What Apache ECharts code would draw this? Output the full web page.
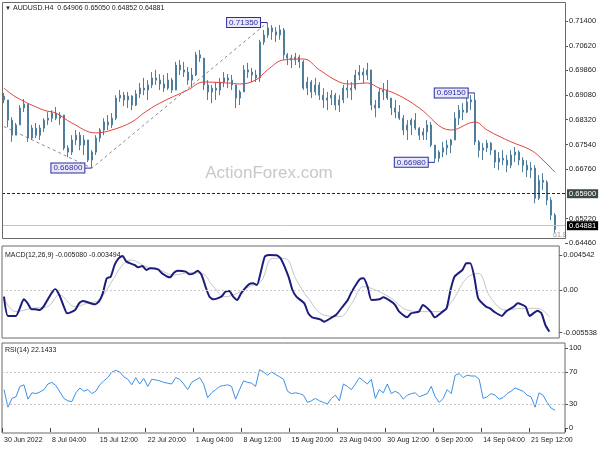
<!DOCTYPE html>
<html><head><meta charset="utf-8">
<script src="https://cdn.jsdelivr.net/npm/echarts@6/dist/echarts.min.js"></script>
<style>html,body{margin:0;padding:0;background:#fff}#c{width:600px;height:450px}</style>
</head><body><div id="c"></div>
<script>
// ---------- DATA ----------
const categoryCount = 141; // 4px slots across the panel
const dateLabels = ['30 Jun 2022','8 Jul 04:00','15 Jul 12:00','22 Jul 20:00','1 Aug 04:00','8 Aug 12:00','15 Aug 20:00','23 Aug 04:00','30 Aug 12:00','6 Sep 20:00','14 Sep 04:00','21 Sep 12:00'];
const firstOpen = 0.6905;
const priceHigh = [0.6915,0.6893,0.6839,0.6821,0.6877,0.6896,0.6880,0.6815,0.6821,0.6815,
0.6836,0.6855,0.6861,0.6871,0.6855,0.6846,0.6752,0.6783,0.6799,0.6793,
0.6783,0.6768,0.6736,0.6783,0.6805,0.6836,0.6846,0.6852,0.6908,0.6924,
0.6918,0.6918,0.6908,0.6924,0.6946,0.6962,0.6955,0.6980,0.6987,0.6974,
0.6971,0.6977,0.6962,0.7012,0.7018,0.7012,0.6996,0.6993,0.7043,0.7049,
0.7024,0.6955,0.6940,0.6949,0.6962,0.6980,0.6974,0.6971,0.6930,0.6924,
0.7002,0.7009,0.6993,0.6987,0.7081,0.7112,0.7135,0.7127,0.7121,0.7127,
0.7118,0.7040,0.7034,0.7040,0.7034,0.7018,0.6965,0.6955,0.6962,0.6949,
0.6930,0.6918,0.6924,0.6915,0.6908,0.6940,0.6955,0.6949,0.6987,0.7002,
0.6993,0.7009,0.6987,0.6893,0.6930,0.6946,0.6955,0.6899,0.6893,0.6877,
0.6846,0.6830,0.6836,0.6852,0.6808,0.6805,0.6830,0.6824,0.6752,0.6736,
0.6762,0.6768,0.6771,0.6855,0.6877,0.6883,0.6899,0.6908,0.6915,0.6768,
0.6758,0.6768,0.6762,0.6736,0.6730,0.6736,0.6721,0.6736,0.6746,0.6736,
0.6714,0.6705,0.6699,0.6689,0.6658,0.6664,0.6642,0.6589,0.6539];
const priceLow = [0.6883,0.6808,0.6762,0.6783,0.6815,0.6855,0.6762,0.6768,0.6774,0.6768,
0.6793,0.6815,0.6824,0.6830,0.6815,0.6736,0.6714,0.6721,0.6752,0.6736,
0.6721,0.6699,0.6680,0.6721,0.6762,0.6783,0.6799,0.6805,0.6830,0.6887,
0.6874,0.6868,0.6861,0.6874,0.6899,0.6908,0.6893,0.6930,0.6940,0.6924,
0.6918,0.6924,0.6915,0.6924,0.6971,0.6965,0.6940,0.6933,0.6968,0.7012,
0.6924,0.6893,0.6883,0.6893,0.6908,0.6933,0.6930,0.6924,0.6868,0.6877,
0.6918,0.6962,0.6949,0.6949,0.6949,0.7065,0.7087,0.7081,0.7074,0.7081,
0.7018,0.7002,0.6993,0.7002,0.6993,0.6924,0.6908,0.6899,0.6908,0.6893,
0.6868,0.6861,0.6877,0.6861,0.6855,0.6883,0.6899,0.6893,0.6924,0.6955,
0.6946,0.6955,0.6861,0.6839,0.6871,0.6893,0.6893,0.6846,0.6836,0.6830,
0.6783,0.6768,0.6783,0.6799,0.6768,0.6768,0.6768,0.6746,0.6698,0.6699,
0.6714,0.6721,0.6727,0.6768,0.6815,0.6830,0.6852,0.6861,0.6752,0.6714,
0.6705,0.6730,0.6721,0.6680,0.6674,0.6689,0.6667,0.6680,0.6699,0.6689,
0.6667,0.6652,0.6649,0.6570,0.6580,0.6611,0.6564,0.6517,0.6479];
const priceClose = [0.6893,0.6830,0.6783,0.6815,0.6868,0.6880,0.6774,0.6805,0.6783,0.6805,
0.6830,0.6836,0.6852,0.6836,0.6846,0.6743,0.6730,0.6768,0.6783,0.6752,
0.6768,0.6705,0.6730,0.6774,0.6799,0.6824,0.6815,0.6836,0.6899,0.6908,
0.6893,0.6905,0.6877,0.6912,0.6930,0.6924,0.6940,0.6962,0.6955,0.6943,
0.6930,0.6955,0.6924,0.7002,0.6987,0.6980,0.6955,0.6971,0.7034,0.7024,
0.6940,0.6918,0.6930,0.6924,0.6949,0.6962,0.6955,0.6940,0.6899,0.6918,
0.6987,0.6980,0.6971,0.6962,0.7074,0.7096,0.7118,0.7106,0.7096,0.7112,
0.7034,0.7024,0.7018,0.7027,0.7012,0.6930,0.6949,0.6918,0.6940,0.6908,
0.6893,0.6899,0.6908,0.6877,0.6893,0.6930,0.6924,0.6930,0.6971,0.6980,
0.6971,0.6987,0.6877,0.6868,0.6918,0.6924,0.6899,0.6868,0.6855,0.6836,
0.6799,0.6815,0.6830,0.6805,0.6783,0.6793,0.6815,0.6752,0.6711,0.6730,
0.6743,0.6752,0.6768,0.6836,0.6861,0.6855,0.6887,0.6893,0.6762,0.6736,
0.6743,0.6758,0.6736,0.6699,0.6711,0.6705,0.6689,0.6721,0.6730,0.6705,
0.6689,0.6674,0.6680,0.6586,0.6642,0.6636,0.6580,0.6533,0.6488];

const maIdx = [0,3,10,13,17,23,27,32,35,39,46,50,56,59,63,66,70,75,79,84,87,91,94,97,101,104,112,118,121,127,132,135,138];
const maVal = [0.6930,0.6902,0.6861,0.6852,0.6821,0.6790,0.6799,0.6824,0.6852,0.6883,0.6924,0.6949,0.6946,0.6943,0.6955,0.6987,0.7018,0.7021,0.6987,0.6949,0.6943,0.6946,0.6930,0.6918,0.6893,0.6868,0.6799,0.6824,0.6799,0.6762,0.6736,0.6705,0.6667];

const zigIdx = [0,22,66];
const zigVal = [0.6810,0.6680,0.7135];

const swingIdx = [22,66,108,118];
const swingPrice = [0.6680,0.7135,0.6698,0.6915];

const priceTicks = [0.714,0.7062,0.6986,0.6908,0.6832,0.6754,0.6676,0.6522,0.6446];
const levelPrice = 0.659;
const lastPrice = 0.64881;

const macdIdx = [0,1,3,4,5,6,7,8,9,10,11,12,13,14,15,16,18,19,20,21,23,24,25,26,27,28,29,30,31,33,34,35,36,37,39,40,42,43,44,46,47,48,49,50,51,52,53,55,56,57,58,59,60,62,63,64,65,66,67,69,70,72,73,74,76,77,78,80,81,83,84,86,87,88,90,91,92,93,95,96,98,99,100,102,103,105,106,108,109,111,112,113,114,116,117,118,119,120,122,123,124,126,127,129,130,132,133,135,136,137,138];
const macdVal = [-0.00087,-0.00337,-0.00337,-0.00238,-0.00121,-0.00173,-0.00251,-0.00251,-0.00260,-0.00216,-0.00130,-0.00043,0.00009,-0.00065,-0.00195,-0.00303,-0.00260,-0.00173,-0.00143,-0.00156,-0.00186,-0.00151,-0.00043,0.00151,0.00173,0.00325,0.00411,0.00441,0.00368,0.00325,0.00294,0.00312,0.00260,0.00281,0.00268,0.00216,0.00164,0.00225,0.00251,0.00238,0.00203,0.00216,0.00251,0.00195,0.00043,-0.00087,-0.00121,-0.00087,-0.00022,-0.00013,-0.00087,-0.00130,-0.00043,0.00074,0.00087,0.00065,0.00238,0.00433,0.00454,0.00450,0.00411,0.00173,0.00000,-0.00087,-0.00173,-0.00303,-0.00355,-0.00381,-0.00411,-0.00355,-0.00325,-0.00195,-0.00130,-0.00022,0.00138,0.00151,0.00043,-0.00130,-0.00121,-0.00095,-0.00151,-0.00195,-0.00281,-0.00355,-0.00303,-0.00281,-0.00195,-0.00281,-0.00355,-0.00281,-0.00238,0.00000,0.00173,0.00260,0.00346,0.00346,0.00173,-0.00108,-0.00216,-0.00238,-0.00281,-0.00337,-0.00281,-0.00216,-0.00173,-0.00216,-0.00337,-0.00268,-0.00303,-0.00454,-0.00540];

const sigIdx = [0,3,7,11,14,18,21,24,27,30,32,36,39,43,47,50,53,56,59,62,65,68,71,74,77,81,85,88,91,94,98,102,106,110,113,117,120,123,127,131,135,138];
const sigVal = [-0.00108,-0.00281,-0.00238,-0.00216,-0.00065,-0.00216,-0.00173,-0.00130,0.00087,0.00325,0.00389,0.00303,0.00268,0.00195,0.00225,0.00216,0.00043,-0.00087,-0.00043,0.00043,0.00108,0.00411,0.00411,0.00130,-0.00108,-0.00325,-0.00346,-0.00173,0.00043,0.00000,-0.00108,-0.00260,-0.00281,-0.00281,-0.00173,0.00150,0.00216,-0.00087,-0.00260,-0.00238,-0.00238,-0.00349];
const macdTicks = [0.004542,0,-0.005538];

const rsiVal = [48,26,37,39,52,54,36,44,43,45,48,55,57,53,45,37,34,33,44,50,
46,48,43,46,54,59,63,70,72,70,64,61,54,63,55,62,52,61,60,59,
57,56,55,63,61,55,48,57,60,63,55,38,44,48,52,53,54,52,36,48,
59,57,56,52,73,70,66,70,67,64,61,46,43,44,43,41,32,34,37,34,
32,30,37,41,34,55,52,48,55,63,59,55,61,37,48,44,55,43,46,43,
36,41,43,44,39,41,43,52,39,32,37,48,43,66,68,63,66,65,65,61,
37,39,43,41,36,38,43,46,50,48,46,41,39,26,44,41,32,25,22.14];
const rsiTicks = [100,70,30,0];
const rsiLevels = [70,30];

// ---------- BUILD ----------
const FONT = 'Liberation Sans, Arial, sans-serif';
const cats = Array.from({length: categoryCount}, (_, i) => String(i));
const ohlc = priceClose.map((c, i) => [i === 0 ? firstOpen : priceClose[i - 1], c, priceLow[i], priceHigh[i]]);
const pairs = (ix, vs) => ix.map((x, k) => [x, vs[k]]);
const BAR = '#4f7d9c';
const ANN = '#2e2e9e';

const chart = echarts.init(document.getElementById('c'), null, {renderer: 'canvas'});
chart.setOption({
  animation: false,
  textStyle: {fontFamily: FONT},
  grid: [
    {left: 2, right: 35, top: 3, height: 240, show: false},
    {left: 2, right: 35, top: 246, height: 92, show: true, borderColor: '#6a6a6a', borderWidth: 1},
    {left: 2, right: 35, top: 343, height: 90, show: true, borderColor: '#6a6a6a', borderWidth: 1}
  ],
  xAxis: [0, 1, 2].map(g => ({
    type: 'category', gridIndex: g, data: cats, boundaryGap: true,
    show: g === 2,
    axisLine: {show: false},
    axisTick: {show: g === 2, interval: 11, length: 4, lineStyle: {color: '#444'}},
    axisLabel: {show: g === 2, interval: 11, align: 'left', fontSize: 7, color: '#222', margin: 4,
      formatter: (v, i) => dateLabels[Math.round(i / 12)] || ''},
    splitLine: {show: false}
  })),
  yAxis: [
    {type: 'value', gridIndex: 0, position: 'right', min: 0.6446, max: 0.7196, scale: true,
      axisLine: {show: false}, splitLine: {show: false},
      axisTick: {show: true, customValues: priceTicks, length: 3, lineStyle: {color: '#555'}},
      axisLabel: {customValues: priceTicks, formatter: v => v.toFixed(5), fontSize: 7.5, color: '#222', margin: 4}},
    {type: 'value', gridIndex: 1, position: 'right', min: -0.006229, max: 0.00571,
      axisLine: {show: false}, splitLine: {show: false},
      axisTick: {show: true, customValues: macdTicks, length: 3, lineStyle: {color: '#555'}},
      axisLabel: {customValues: macdTicks, formatter: v => (v === 0 ? '0.00' : v.toFixed(6)), fontSize: 7.5, color: '#222', margin: 4}},
    {type: 'value', gridIndex: 2, position: 'right', min: -6.25, max: 106.25,
      axisLine: {show: false}, splitLine: {show: false},
      axisTick: {show: true, customValues: rsiTicks, length: 3, lineStyle: {color: '#555'}},
      axisLabel: {customValues: rsiTicks, formatter: v => String(v), fontSize: 7.5, color: '#222', margin: 4}}
  ],
  series: [
    {type: 'line', name: 'zigzag', xAxisIndex: 0, yAxisIndex: 0, data: pairs(zigIdx, zigVal),
      showSymbol: false, silent: true, lineStyle: {color: '#8a8a8a', width: 1, type: [3, 3]}, z: 1},
    {type: 'candlestick', name: 'AUDUSD', xAxisIndex: 0, yAxisIndex: 0, data: ohlc, barWidth: 1.5,
      itemStyle: {color: BAR, color0: BAR, borderColor: BAR, borderColor0: BAR, borderWidth: 1},
      markLine: {silent: true, symbol: ['none', 'none'],
        data: [
          {yAxis: levelPrice, lineStyle: {color: '#222', width: 1, type: [3, 2]},
            label: {show: true, position: 'end', distance: 2, formatter: levelPrice.toFixed(5),
              backgroundColor: '#3e4943', color: '#fff', padding: [1, 2, 0, 2], fontSize: 7.5}},
          {yAxis: lastPrice, lineStyle: {color: '#dcbcbc', width: 1, type: 'solid'},
            label: {show: true, position: 'end', distance: 2, formatter: lastPrice.toFixed(5),
              backgroundColor: '#000', color: '#fff', padding: [1, 2, 0, 2], fontSize: 7.5}}
        ]},
      markPoint: {silent: true,
        data: swingIdx.map((ix, k) => ({
          coord: [ix, swingPrice[k]], symbol: 'rect', symbolSize: [7, 1], symbolOffset: [-4, 0],
          itemStyle: {color: ANN},
          label: {show: true, position: 'left', distance: 0, formatter: swingPrice[k].toFixed(5),
            color: ANN, backgroundColor: '#e8e8fa', borderColor: ANN, borderWidth: 1,
            padding: [1, 2, 0, 2], fontSize: 8}
        }))},
      z: 3},
    {type: 'line', name: 'MA', xAxisIndex: 0, yAxisIndex: 0, data: pairs(maIdx, maVal),
      smooth: 0.4, showSymbol: false, silent: true, lineStyle: {color: '#e0443e', width: 1}, z: 4},
    {type: 'line', name: 'Signal', xAxisIndex: 1, yAxisIndex: 1, data: pairs(sigIdx, sigVal),
      smooth: 0.4, showSymbol: false, silent: true, lineStyle: {color: '#c4c4c4', width: 1},
      markLine: {silent: true, symbol: ['none', 'none'], label: {show: false},
        lineStyle: {color: '#c8c8c8', type: [2, 2], width: 1}, data: [{yAxis: 0}]}},
    {type: 'line', name: 'MACD', xAxisIndex: 1, yAxisIndex: 1, data: pairs(macdIdx, macdVal),
      smooth: 0.2, showSymbol: false, silent: true, lineStyle: {color: '#1c1c7c', width: 2}},
    {type: 'line', name: 'RSI', xAxisIndex: 2, yAxisIndex: 2, data: rsiVal,
      showSymbol: false, silent: true, lineStyle: {color: '#3d8fe2', width: 1},
      markLine: {silent: true, symbol: ['none', 'none'], label: {show: false},
        lineStyle: {color: '#c8c8c8', type: [2, 2], width: 1},
        data: rsiLevels.map(v => ({yAxis: v}))}}
  ],
  graphic: [
    {type: 'rect', silent: true, shape: {x: 2.5, y: 2.5, width: 563, height: 236},
      style: {fill: 'none', stroke: '#6a6a6a', lineWidth: 1}, z: 100},
    {type: 'text', silent: true, x: 5, y: 8, style: {text: '\u25BC', fontSize: 6, fill: '#222', verticalAlign: 'middle', fontFamily: FONT}},
    {type: 'text', silent: true, x: 13, y: 8, style: {text: 'AUDUSD.H4  0.64906 0.65050 0.64852 0.64881', fontSize: 7, fill: '#222', verticalAlign: 'middle', fontFamily: FONT}},
    {type: 'text', silent: true, x: 269, y: 173, z: -1, style: {text: 'ActionForex.com', fontSize: 17, fill: '#c8c8c8', align: 'center', verticalAlign: 'middle', fontFamily: FONT}},
    {type: 'text', silent: true, x: 553, y: 235, style: {text: '61.8', fontSize: 7, fill: '#999', verticalAlign: 'middle', fontFamily: FONT}},
    {type: 'text', silent: true, x: 5, y: 255, style: {text: 'MACD(12,26,9) -0.005080 -0.003494', fontSize: 7, fill: '#222', verticalAlign: 'middle', fontFamily: FONT}},
    {type: 'text', silent: true, x: 5, y: 350, style: {text: 'RSI(14) 22.1433', fontSize: 7, fill: '#222', verticalAlign: 'middle', fontFamily: FONT}}
  ]
});
</script></body></html>
